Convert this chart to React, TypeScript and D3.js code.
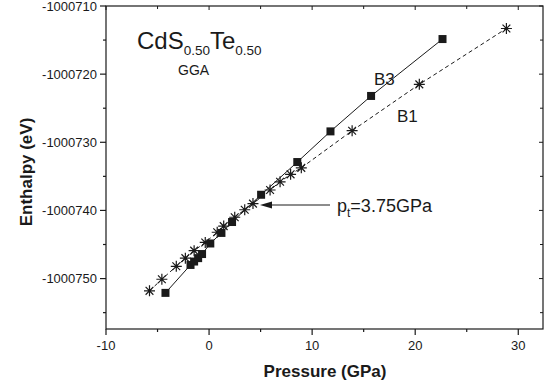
import React from "react";
import * as d3 from "d3";

const b3Pressure = [-4.23, -1.8, -1.45, -1.06, -0.68, 0.12, 1.2, 2.23, 5.05, 8.56, 11.78, 15.72, 22.65];
const b3Enthalpy = [-1000752.1, -1000748.0, -1000747.5, -1000747.0, -1000746.4, -1000744.85, -1000743.3, -1000741.7, -1000737.7, -1000732.9, -1000728.4, -1000723.2, -1000714.85];
const b1Pressure = [-5.78, -4.58, -3.18, -2.3, -1.45, -0.37, 0.79, 1.42, 2.49, 3.46, 4.26, 5.92, 6.89, 7.91, 8.95, 13.88, 20.4, 28.85];
const b1Enthalpy = [-1000751.8, -1000750.1, -1000748.2, -1000747.0, -1000745.9, -1000744.7, -1000743.2, -1000742.3, -1000741.0, -1000739.9, -1000739.0, -1000737.0, -1000735.8, -1000734.7, -1000733.75, -1000728.3, -1000721.5, -1000713.3];
const xTicks = [-10, 0, 10, 20, 30];
const xMinor = [-5, 5, 15, 25];
const yTicks = [-1000750, -1000740, -1000730, -1000720, -1000710];
const yMinor = [-1000755, -1000745, -1000735, -1000725, -1000715];

const W = 554, H = 392;
const L = 106, R = 543, T = 6, B = 329;
const FONT = "'Liberation Sans', Arial, sans-serif";
const INK = "#1a1a1a";

export default function App() {
  const x = d3.scaleLinear().domain([-10, 32.4]).range([L, R]);
  const y = d3.scaleLinear().domain([-1000757.4, -1000710]).range([B, T]);
  const b3 = b3Pressure.map((p, i) => [p, b3Enthalpy[i]] as [number, number]);
  const b1 = b1Pressure.map((p, i) => [p, b1Enthalpy[i]] as [number, number]);
  const line = d3.line<[number, number]>().x(d => x(d[0])).y(d => y(d[1]));
  const r = 5.5, rd = r * Math.SQRT1_2;
  const star = `M${-r},0L${r},0M0,${-r}L0,${r}M${-rd},${-rd}L${rd},${rd}M${-rd},${rd}L${rd},${-rd}`;
  const arrowY = 205;
  return (
    <svg width={W} height={H} style={{ position: "absolute", left: 0, top: 0, background: "#fff" }} fontFamily={FONT}>
      <rect x={0} y={0} width={W} height={H} fill="#fff" />
      <rect x={L} y={T} width={R - L} height={B - T} fill="none" stroke={INK} strokeWidth={1.2} />
      {xTicks.map(t => (
        <g key={"xt" + t}>
          <line x1={x(t)} x2={x(t)} y1={B} y2={B + 6} stroke={INK} strokeWidth={1.2} />
          <line x1={x(t)} x2={x(t)} y1={T} y2={T + 4} stroke={INK} strokeWidth={1} />
          <text x={x(t)} y={B + 21} textAnchor="middle" fontSize={13} fill={INK}>{String(t)}</text>
        </g>
      ))}
      {xMinor.map(t => (
        <g key={"xm" + t}>
          <line x1={x(t)} x2={x(t)} y1={B} y2={B + 3} stroke={INK} strokeWidth={1.2} />
          <line x1={x(t)} x2={x(t)} y1={T} y2={T + 3} stroke={INK} strokeWidth={1} />
        </g>
      ))}
      {yTicks.map(t => (
        <g key={"yt" + t}>
          <line x1={L - 6} x2={L} y1={y(t)} y2={y(t)} stroke={INK} strokeWidth={1.2} />
          <line x1={R - 4} x2={R} y1={y(t)} y2={y(t)} stroke={INK} strokeWidth={1} />
          <text x={L - 9} y={y(t) + 4.5} textAnchor="end" fontSize={13} fill={INK}>{String(t)}</text>
        </g>
      ))}
      {yMinor.map(t => (
        <g key={"ym" + t}>
          <line x1={L - 3} x2={L} y1={y(t)} y2={y(t)} stroke={INK} strokeWidth={1.2} />
          <line x1={R - 3} x2={R} y1={y(t)} y2={y(t)} stroke={INK} strokeWidth={1} />
        </g>
      ))}
      <text x={325} y={377} textAnchor="middle" fontSize={17} fontWeight="bold" fill={INK}>Pressure (GPa)</text>
      <text transform={`translate(32,172) rotate(-90)`} textAnchor="middle" fontSize={17} fontWeight="bold" fill={INK}>Enthalpy (eV)</text>
      <path d={line(b1) || ""} fill="none" stroke={INK} strokeWidth={1} strokeDasharray="4,3" />
      <path d={line(b3) || ""} fill="none" stroke={INK} strokeWidth={1} />
      {b1.map((d, i) => (
        <path key={"s" + i} d={star} transform={`translate(${x(d[0])},${y(d[1])})`} stroke={INK} strokeWidth={1.2} fill="none" />
      ))}
      {b3.map((d, i) => (
        <rect key={"q" + i} x={x(d[0]) - 4} y={y(d[1]) - 4} width={8} height={8} fill={INK} />
      ))}
      <text x={137} y={49} fontSize={24} fill={INK}>
        CdS<tspan fontSize={13.5} dy={6}>0.50</tspan><tspan dy={-6}>Te</tspan><tspan fontSize={13.5} dy={6}>0.50</tspan>
      </text>
      <text x={178} y={75} fontSize={14} fill={INK}>GGA</text>
      <text x={374} y={85} fontSize={17} fill={INK}>B3</text>
      <text x={397} y={122} fontSize={17} fill={INK}>B1</text>
      <line x1={330} x2={268} y1={arrowY} y2={arrowY} stroke={INK} strokeWidth={1} />
      <path d={`M260,${arrowY}L272,${arrowY - 3.5}L272,${arrowY + 3.5}Z`} fill={INK} />
      <text x={337} y={212} fontSize={18} fill={INK}>
        p<tspan fontSize={12} dy={5}>t</tspan><tspan dy={-5}>=3.75GPa</tspan>
      </text>
    </svg>
  );
}
